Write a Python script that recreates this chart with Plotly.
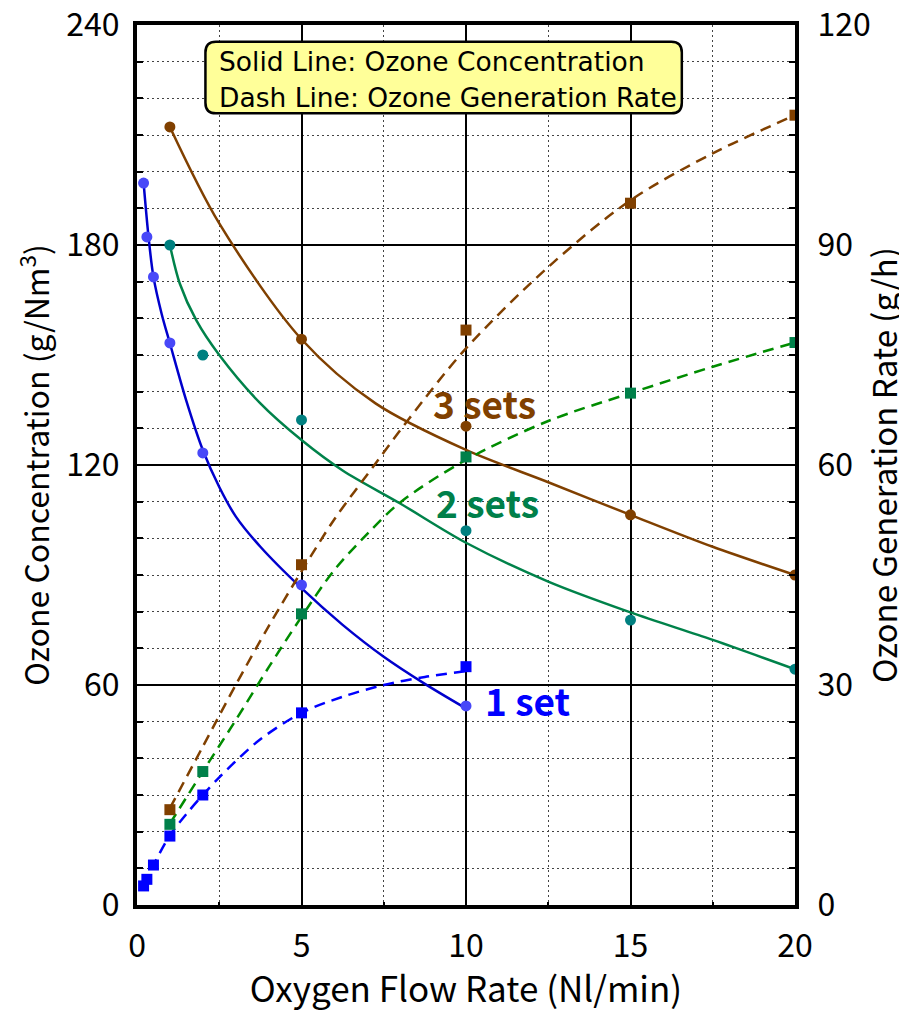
import plotly.graph_objects as go

# ---------------- data ----------------
# measured points: flow (Nl/min), concentration (g/Nm3), generation rate (g/h)
flow_1 = [0.2, 0.3, 0.5, 1, 2, 5, 10]
conc_1 = [196.9, 182.2, 171.3, 153.3, 123.3, 87.3, 54.3]
rate_1 = [2.6, 3.5, 5.45, 9.4, 15.0, 26.2, 32.5]

flow_2 = [1, 2, 5, 10, 15, 20]
conc_2 = [180.0, 150.0, 132.3, 102.1, 77.7, 64.3]
rate_2 = [11.0, 18.2, 39.7, 61.1, 69.8, 76.7]

flow_3 = [1, 5, 10, 15, 20]
conc_3 = [212.2, 154.3, 130.6, 106.4, 90.0]
rate_3 = [13.0, 46.4, 78.4, 95.7, 107.7]

# fitted curves as drawn in the reference
fit_conc_1_x = [0.2, 0.35, 0.5, 0.75, 1, 1.5, 2, 2.5, 3, 3.75, 5, 6.25, 7.5, 8.75, 10]
fit_conc_1_y = [197.0, 182.3, 171.3, 161.2, 153.2, 137.5, 124.1, 114.0, 106.0, 97.7, 86.4, 76.4, 67.7, 60.3, 53.6]
fit_rate_1_x = [0.2, 0.5, 1, 1.5, 2, 2.5, 3, 3.75, 5, 6.25, 7.5, 8.75, 10]
fit_rate_1_y = [2.7, 5.45, 9.5, 12.4, 15.0, 17.4, 19.6, 22.6, 26.2, 28.4, 30.0, 31.1, 31.9]

fit_conc_2_x = [1, 1.3, 1.8, 2.5, 3.75, 5, 6.25, 8, 10, 12.5, 15, 17.5, 20]
fit_conc_2_y = [180.0, 169.5, 159.5, 150.0, 136.8, 126.8, 118.5, 109.5, 98.8, 88.2, 79.8, 72.3, 64.3]
fit_rate_2_x = [1, 2, 3, 4, 5, 6, 7, 8, 10, 12.5, 15, 17.5, 20]
fit_rate_2_y = [11.1, 18.2, 25.2, 32.4, 39.3, 45.7, 50.6, 54.9, 60.7, 66.0, 69.8, 73.4, 76.7]

fit_conc_3_x = [1, 2.5, 5, 7.25, 10, 12.5, 15, 17.5, 20]
fit_conc_3_y = [212.2, 185.9, 154.3, 136.8, 124.1, 115.3, 106.4, 97.7, 90.0]
fit_rate_3_x = [1, 2, 3, 4, 5, 6, 7.25, 8.25, 10, 12.5, 15, 17.5, 20]
fit_rate_3_y = [13.2, 21.6, 30.0, 38.0, 45.5, 52.6, 60.2, 66.2, 75.9, 87.0, 96.1, 102.5, 107.7]

x_ticks = [0, 5, 10, 15, 20]
y1_ticks = [0, 60, 120, 180, 240]
y2_ticks = [0, 30, 60, 90, 120]

series_labels = ["3 sets", "2 sets", "1 set"]
legend_lines = ["Solid Line: Ozone Concentration", "Dash Line: Ozone Generation Rate"]

FONT = "Noto Sans CJK JP"
BOX_FONT = "DejaVu Sans"

BLUE_LINE, BLUE_SQ, BLUE_CIR = "#0000cc", "#0000ff", "#4848f8"
GREEN_LINE, GREEN_DASH, GREEN_SQ, GREEN_CIR = "#00824a", "#008c00", "#00804a", "#008080"
BROWN = "#804000"

fig = go.Figure()

def curve(x, y, color, dash, yaxis):
    fig.add_trace(go.Scatter(x=x, y=y, mode="lines", yaxis=yaxis,
                             line=dict(color=color, width=2.5, dash=dash, shape="spline", smoothing=0.9),
                             showlegend=False, hoverinfo="skip"))

def points(x, y, color, symbol, yaxis):
    fig.add_trace(go.Scatter(x=x, y=y, mode="markers", yaxis=yaxis,
                             marker=dict(color=color, size=11, symbol=symbol),
                             showlegend=False))

DASH = "11px,7px"
# dashed generation-rate curves (right axis)
curve(fit_rate_3_x, fit_rate_3_y, BROWN, DASH, "y2")
curve(fit_rate_2_x, fit_rate_2_y, GREEN_DASH, DASH, "y2")
curve(fit_rate_1_x, fit_rate_1_y, BLUE_SQ, DASH, "y2")
# solid concentration curves (left axis)
curve(fit_conc_3_x, fit_conc_3_y, BROWN, "solid", "y")
curve(fit_conc_2_x, fit_conc_2_y, GREEN_LINE, "solid", "y")
curve(fit_conc_1_x, fit_conc_1_y, BLUE_LINE, "solid", "y")

points(flow_3, rate_3, BROWN, "square", "y2")
points(flow_2, rate_2, GREEN_SQ, "square", "y2")
points(flow_1, rate_1, BLUE_SQ, "square", "y2")
points(flow_3, conc_3, BROWN, "circle", "y")
points(flow_2, conc_2, GREEN_CIR, "circle", "y")
points(flow_1, conc_1, BLUE_CIR, "circle", "y")

# rounded legend box
x0, x1, y0, y1 = 2.08, 16.56, 215.9, 235.4
rx, ry = 0.32, 2.9
path = (f"M {x0+rx},{y1} L {x1-rx},{y1} Q {x1},{y1} {x1},{y1-ry} "
        f"L {x1},{y0+ry} Q {x1},{y0} {x1-rx},{y0} L {x0+rx},{y0} "
        f"Q {x0},{y0} {x0},{y0+ry} L {x0},{y1-ry} Q {x0},{y1} {x0+rx},{y1} Z")
fig.add_shape(type="path", path=path, xref="x", yref="y",
              fillcolor="#ffff99", line=dict(color="black", width=2.5), layer="above")
for txt, yy in zip(legend_lines, [230.0, 220.1]):
    fig.add_annotation(x=2.42, y=yy, xref="x", yref="y", text=txt, showarrow=False,
                       xanchor="left", yanchor="middle",
                       font=dict(family=BOX_FONT, size=26.5, color="black"))

# series labels
for txt, (lx, ly), col in zip(series_labels, [(10.57, 136.9), (10.66, 109.9), (11.87, 55.9)],
                              [BROWN, GREEN_SQ, BLUE_SQ]):
    fig.add_annotation(x=lx, y=ly, xref="x", yref="y", text=f"<b>{txt}</b>", showarrow=False,
                       xanchor="center", yanchor="middle",
                       font=dict(family=FONT, size=37, color=col))

tick_font = dict(family=FONT, size=32, color="black")
# the page body has an 8px margin, so the figure is sized/offset to compensate
fig.update_layout(
    width=899, height=1004,
    margin=dict(l=129, r=112, t=17, b=107),
    paper_bgcolor="white", plot_bgcolor="white",
    font=dict(family=FONT, color="black"),
    xaxis=dict(range=[0, 20], tickvals=x_ticks, ticktext=[str(v) for v in x_ticks],
               automargin=False, ticklabeloverflow="allow",
               showgrid=True, gridcolor="black", gridwidth=2,
               showline=True, linecolor="black", linewidth=4, mirror=True,
               ticks="inside", ticklen=6, tickwidth=2, tickcolor="black",
               tickfont=tick_font, ticklabelstandoff=10,
               minor=dict(dtick=2.5, showgrid=True, griddash="2px,3px", gridcolor="#444",
                          gridwidth=1, ticks="inside", ticklen=3, tickcolor="black"),
               title=dict(text="Oxygen Flow Rate (Nl/min)",
                          font=dict(family=FONT, size=35, color="black"), standoff=16),
               zeroline=False),
    yaxis=dict(range=[0, 240], tickvals=y1_ticks, ticktext=[str(v) for v in y1_ticks],
               automargin=False, ticklabeloverflow="allow",
               showgrid=True, gridcolor="black", gridwidth=2,
               showline=True, linecolor="black", linewidth=4, mirror=True,
               ticks="inside", ticklen=6, tickwidth=2, tickcolor="black",
               tickfont=tick_font, ticklabelstandoff=7,
               minor=dict(dtick=10, showgrid=True, griddash="2px,3px", gridcolor="#444",
                          gridwidth=1, ticks="inside", ticklen=6, tickwidth=2, tickcolor="black"),
               title=dict(text="Ozone Concentration (g/Nm<sup>3</sup>)",
                          font=dict(family=FONT, size=32, color="black"), standoff=8),
               zeroline=False),
    yaxis2=dict(range=[0, 120], tickvals=y2_ticks, ticktext=[str(v) for v in y2_ticks],
                automargin=False, ticklabeloverflow="allow",
                overlaying="y", side="right", showgrid=False,
                showline=True, linecolor="black", linewidth=4,
                ticks="inside", ticklen=6, tickwidth=2, tickcolor="black",
                tickfont=tick_font, ticklabelstandoff=12,
                minor=dict(dtick=5, ticks="inside", ticklen=6, tickwidth=2, tickcolor="black"),
                title=dict(text="Ozone Generation Rate (g/h)",
                           font=dict(family=FONT, size=33, color="black"), standoff=18),
                zeroline=False),
    showlegend=False,
)

fig.write_html("out.html")
